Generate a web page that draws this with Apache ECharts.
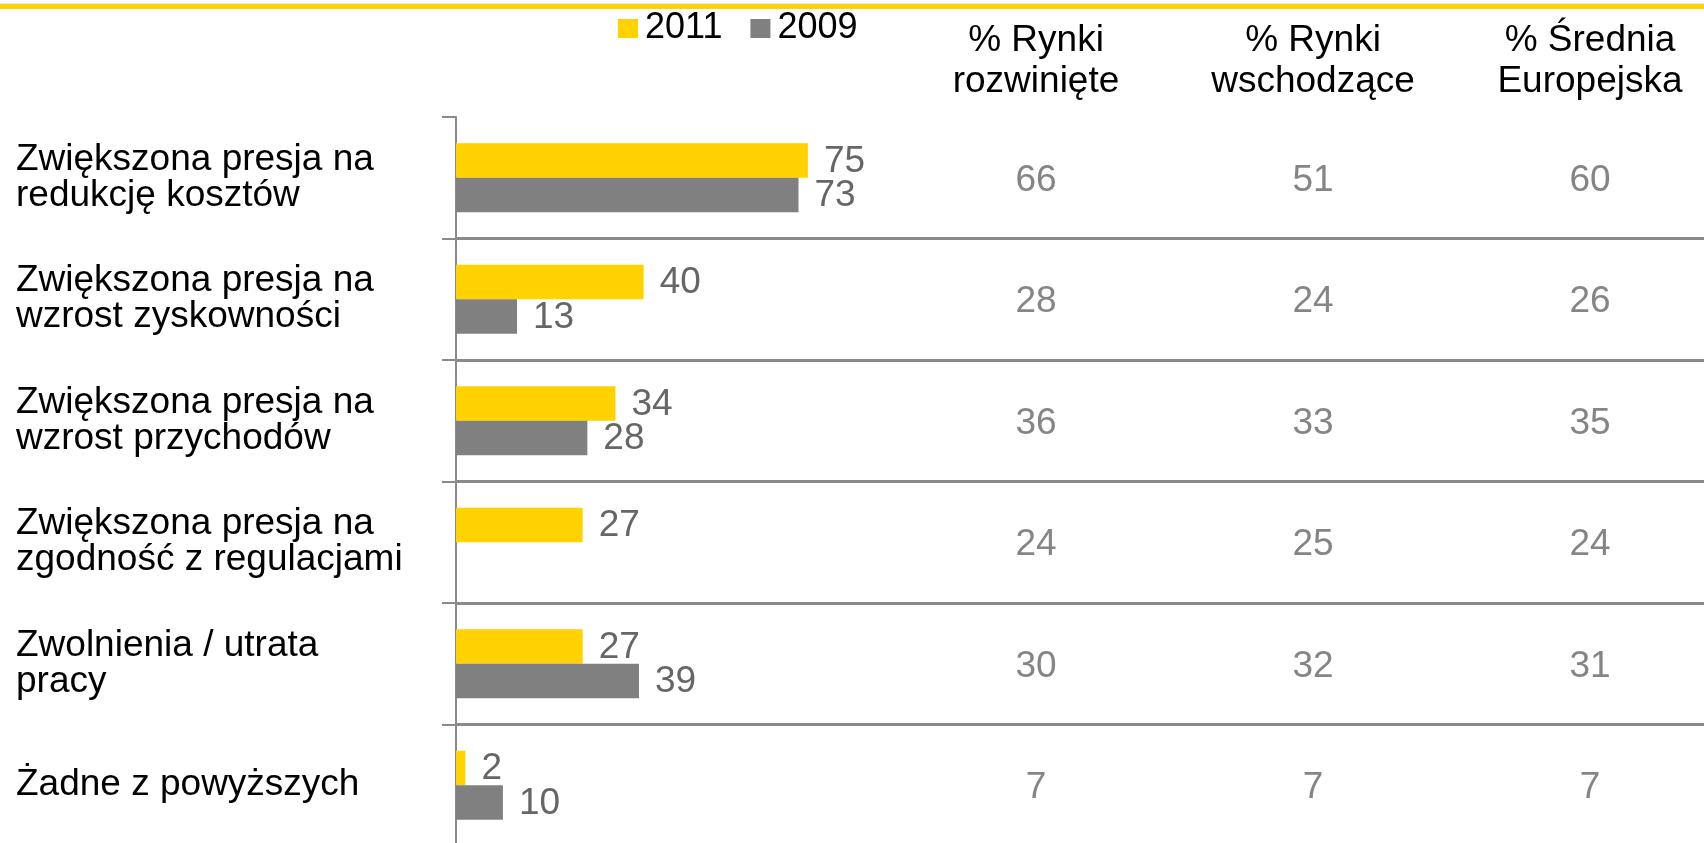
<!DOCTYPE html>
<html>
<head>
<meta charset="utf-8">
<script src="https://cdn.jsdelivr.net/npm/echarts@6/dist/echarts.min.js"></script>
<style>
html,body{margin:0;padding:0;background:#fff;}
#chart{width:1704px;height:843px;}
</style>
</head>
<body>
<div id="chart"></div>
<script>
const categories = [
  "Zwiększona presja na\nredukcję kosztów",
  "Zwiększona presja na\nwzrost zyskowności",
  "Zwiększona presja na\nwzrost przychodów",
  "Zwiększona presja na\nzgodność z regulacjami",
  "Zwolnienia / utrata\npracy",
  "Żadne z powyższych"
];
const seriesNames = ["2011", "2009"];
const values2011 = [75, 40, 34, 27, 27, 2];
const values2009 = [73, 13, 28, null, 39, 10];
const columnHeaders = ["% Rynki\nrozwinięte", "% Rynki\nwschodzące", "% Średnia\nEuropejska"];
const colDeveloped = [66, 28, 36, 24, 30, 7];
const colEmerging = [51, 24, 33, 25, 32, 7];
const colEurope = [60, 26, 35, 24, 31, 7];

const FONT = '"Liberation Sans", Arial, sans-serif';
const YELLOW = '#FFD200';
const GREY = '#808080';
const LINE = '#8a8a8a';
const VAL = '#666666';

const tableCols = [colDeveloped, colEmerging, colEurope];
const tableData = [];
tableCols.forEach((col, ci) => col.forEach((v, ri) => tableData.push([ci, ri, v])));

const chart = echarts.init(document.getElementById('chart'), null, {renderer: 'canvas'});
chart.setOption({
  animation: false,
  backgroundColor: '#fff',
  textStyle: {fontFamily: FONT},
  graphic: [
    {type: 'rect', left: 0, top: 3, shape: {width: 1704, height: 1}, style: {fill: '#e8e8e8'}},
    {type: 'rect', left: 0, top: 4, shape: {width: 1704, height: 5}, style: {fill: YELLOW}}
  ],
  legend: {
    data: seriesNames,
    left: 613,
    top: 5,
    icon: 'rect',
    itemWidth: 20,
    itemHeight: 19,
    itemGap: 28,
    textStyle: {fontFamily: FONT, fontSize: 36, color: '#000', lineHeight: 37, padding: [0, 0, 0, 2]}
  },
  grid: [
    {left: 456, top: 117, right: 0, bottom: -3, containLabel: false, outerBoundsMode: 'none'},
    {left: 897.5, top: 117, right: -24.5, bottom: -3, containLabel: false, outerBoundsMode: 'none'}
  ],
  xAxis: [
    {type: 'value', gridIndex: 0, min: 0, max: 266, show: false},
    {
      type: 'category', gridIndex: 1, data: columnHeaders, position: 'top',
      axisLine: {show: false}, axisTick: {show: false}, splitLine: {show: false},
      axisLabel: {fontFamily: FONT, fontSize: 37, lineHeight: 41, color: '#000', margin: 15, interval: 0}
    }
  ],
  yAxis: [
    {
      type: 'category', gridIndex: 0, data: categories, inverse: true,
      axisLine: {show: true, lineStyle: {color: LINE, width: 2}},
      axisTick: {show: true, length: 14, inside: false, lineStyle: {color: LINE, width: 2}},
      splitLine: {show: true, showMinLine: false, lineStyle: {color: LINE, width: 3}},
      axisLabel: {
        fontFamily: FONT, fontSize: 37, lineHeight: 36, color: '#000',
        align: 'left', margin: 440, interval: 0
      }
    },
    {type: 'category', gridIndex: 1, data: categories, inverse: true, show: false}
  ],
  series: [
    {
      name: seriesNames[0], type: 'bar', xAxisIndex: 0, yAxisIndex: 0,
      data: values2011, barWidth: 34.5, barGap: '0%',
      itemStyle: {color: YELLOW},
      label: {show: true, position: 'right', distance: 16, offset: [0, 1], fontFamily: FONT, fontSize: 37, color: VAL}
    },
    {
      name: seriesNames[1], type: 'bar', xAxisIndex: 0, yAxisIndex: 0,
      data: values2009, barWidth: 34.5, barGap: '0%',
      itemStyle: {color: GREY},
      label: {show: true, position: 'right', distance: 16, offset: [0, 1], fontFamily: FONT, fontSize: 37, color: VAL}
    },
    {
      name: 'table', type: 'scatter', xAxisIndex: 1, yAxisIndex: 1,
      data: tableData, encode: {x: 0, y: 1},
      symbolSize: 1, itemStyle: {color: 'transparent'},
      label: {
        show: true, position: 'inside', offset: [0, 3],
        formatter: p => String(p.value[2]),
        fontFamily: FONT, fontSize: 37, color: VAL
      },
      silent: true
    }
  ]
});
</script>
</body>
</html>
